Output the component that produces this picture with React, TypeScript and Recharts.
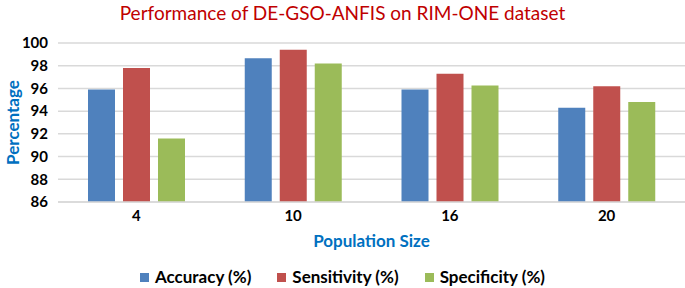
import React from "react";
import { BarChart, Bar, XAxis, YAxis, CartesianGrid, Legend, Label } from "recharts";

const categories = ["4", "10", "16", "20"];
const accuracy = [95.9, 98.65, 95.9, 94.3];
const sensitivity = [97.8, 99.4, 97.3, 96.2];
const specificity = [91.6, 98.2, 96.25, 94.8];
const yTicks = [86, 88, 90, 92, 94, 96, 98, 100];

const seriesDefs = [
  { key: "accuracy", name: "Accuracy (%)", color: "#4f81bd" },
  { key: "sensitivity", name: "Sensitivity (%)", color: "#c0504d" },
  { key: "specificity", name: "Specificity (%)", color: "#9bbb59" },
];

const data = categories.map((c, i) => ({
  cat: c,
  accuracy: accuracy[i],
  sensitivity: sensitivity[i],
  specificity: specificity[i],
}));

const FONT = "Lato, 'Open Sans', sans-serif";

const renderLegend = () => (
  <div
    style={{
      display: "flex",
      justifyContent: "center",
      alignItems: "center",
      fontFamily: FONT,
      fontWeight: 700,
      fontSize: 17,
      lineHeight: "22px",
      color: "#000",
      paddingLeft: 0,
    }}
  >
    {seriesDefs.map((s, i) => (
      <div key={s.key} style={{ display: "flex", alignItems: "center", marginLeft: i === 0 ? 0 : 26 }}>
        <span style={{ width: 9, height: 9, background: s.color, display: "inline-block", marginRight: 6 }} />
        <span>{s.name}</span>
      </div>
    ))}
  </div>
);

const YLabel = (props: any) => {
  const vb = props.viewBox || { x: 0, y: 0, width: 0, height: 0 };
  const cx = 12;
  const cy = vb.y + vb.height / 2;
  return (
    <text
      x={cx}
      y={cy}
      transform={`rotate(-90, ${cx}, ${cy})`}
      textAnchor="middle"
      dominantBaseline="central"
      fill="#0070c0"
      fontFamily={FONT}
      fontWeight={700}
      fontSize={17}
    >
      Percentage
    </text>
  );
};

export default function App() {
  return (
    <div style={{ position: "relative", width: 685, height: 288, background: "#fff" }}>
      <style>{`body{margin:0}`}</style>
      <div
        style={{
          position: "absolute",
          top: 1,
          left: 0,
          width: 685,
          textAlign: "center",
          fontFamily: FONT,
          fontSize: 19,
          color: "#c00000",
          lineHeight: "24px",
        }}
      >
        Performance of DE-GSO-ANFIS on RIM-ONE dataset
      </div>
      <BarChart
        width={685}
        height={288}
        data={data}
        margin={{ top: 43, right: 0, bottom: 34, left: 0 }}
        barSize={27}
        barGap={8}
      >
        <CartesianGrid vertical={false} stroke="#d9d9d9" strokeWidth={1.5} />
        <XAxis
          dataKey="cat"
          height={30}
          axisLine={{ stroke: "#d9d9d9", strokeWidth: 1.5 }}
          tickLine={false}
          tick={{ fill: "#000", fontFamily: FONT, fontWeight: 700, fontSize: 15 }}
        >
          <Label
            value="Population Size"
            position="bottom"
            offset={3}
            fill="#0070c0"
            fontFamily={FONT}
            fontWeight={700}
            fontSize={17}
          />
        </XAxis>
        <YAxis
          width={58}
          domain={[86, 100]}
          ticks={yTicks}
          interval={0}
          axisLine={false}
          tickLine={false}
          tickMargin={4}
          tick={{ fill: "#000", fontFamily: FONT, fontWeight: 700, fontSize: 15 }}
        >
          <Label content={<YLabel />} />
        </YAxis>
        <Legend
          verticalAlign="bottom"
          content={renderLegend}
          wrapperStyle={{ position: "absolute", top: 266, left: 0, width: 685, height: 22 }}
        />
        {seriesDefs.map((s) => (
          <Bar key={s.key} dataKey={s.key} name={s.name} fill={s.color} isAnimationActive={false} />
        ))}
      </BarChart>
    </div>
  );
}
